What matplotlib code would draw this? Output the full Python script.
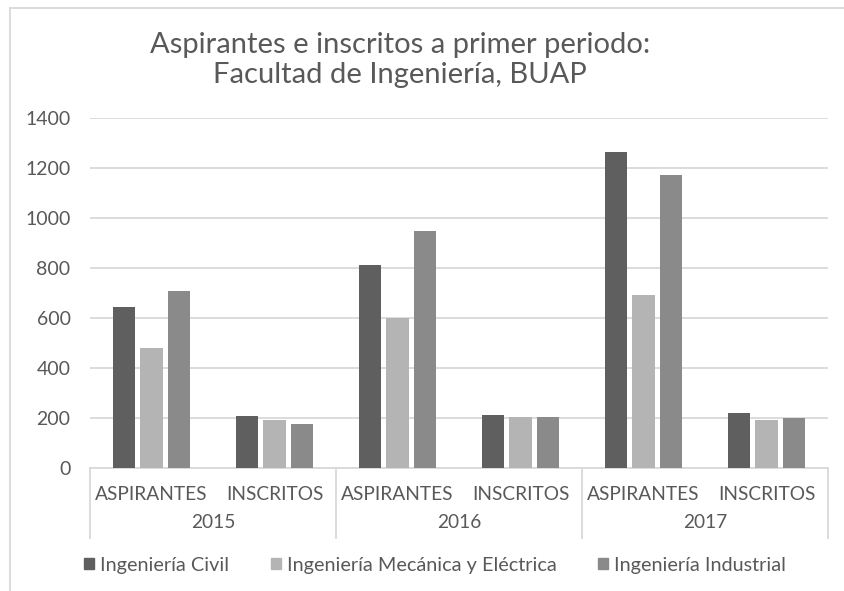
import numpy as np
import matplotlib.pyplot as plt
from matplotlib.lines import Line2D
from matplotlib.patches import Patch
import matplotlib.transforms as mtransforms

plt.rcParams['font.family'] = ['Lato', 'DejaVu Sans']

# datos
categorias = ['ASPIRANTES', 'INSCRITOS'] * 3
anios = ['2015', '2016', '2017']
series = ['Ingeniería Civil', 'Ingeniería Mecánica y Eléctrica', 'Ingeniería Industrial']
civil = [645, 208, 812, 212, 1263, 217]
mecanica = [481, 190, 601, 201, 690, 190]
industrial = [709, 175, 949, 201, 1170, 199]
colores = ['#5f5f5f', '#b4b4b4', '#8a8a8a']
gris_txt = '#595959'
gris_lin = '#d9d9d9'

fig = plt.figure(figsize=(8.44, 5.91), dpi=100)
ax = fig.add_axes([90/844, 1-467.7/591, 738/844, 349.7/591])

x = np.arange(len(categorias))
ancho = 0.179
paso = 0.22
for i, (vals, nombre) in enumerate(zip([civil, mecanica, industrial], series)):
    ax.bar(x + (i-1)*paso, vals, ancho, color=colores[i], label=nombre, zorder=3)

ax.set_xlim(-0.5, 5.5)
ax.set_ylim(0, 1400)
ax.set_yticks(range(0, 1401, 200))
ax.yaxis.grid(True, color=gris_lin, linewidth=1.3, zorder=0)
ax.tick_params(axis='y', length=0, pad=14, labelsize=14, labelcolor=gris_txt)
ax.set_xticks([])
for s in ['top', 'right', 'left']:
    ax.spines[s].set_visible(False)
ax.spines['bottom'].set_color(gris_lin)
ax.spines['bottom'].set_linewidth(1.3)

# etiquetas de categorias en dos niveles
trans = mtransforms.blended_transform_factory(ax.transData, ax.transAxes)
for xi, c in zip(x, categorias):
    ax.text(xi, -0.076, c, transform=trans, ha='center', va='center',
            fontsize=13.8, color=gris_txt)
for j, a in enumerate(anios):
    ax.text(2*j + 0.5, -0.158, a, transform=trans, ha='center', va='center',
            fontsize=13.8, color=gris_txt)
for xs in [-0.5, 1.5, 3.5, 5.5]:
    ax.plot([xs, xs], [0, -0.201], transform=trans, color=gris_lin,
            linewidth=1.3, clip_on=False)

fig.text(400/844, 1-60/591, 'Aspirantes e inscritos a primer periodo:\nFacultad de Ingeniería, BUAP',
         ha='center', va='center', fontsize=21, color=gris_txt, linespacing=1.15)

handles = [Patch(color=c) for c in colores]
fig.legend(handles, series, loc='center', bbox_to_anchor=(435/844, 1-565/591), ncol=3,
           frameon=False, fontsize=14.3, labelcolor=gris_txt, handlelength=0.5,
           handleheight=0.5, handletextpad=0.3, columnspacing=2.1)

# borde del area del grafico
fig.add_artist(Line2D([10/844, 1], [1-8/591, 1-8/591], color=gris_lin, linewidth=1.3))
fig.add_artist(Line2D([10/844, 10/844], [0, 1-8/591], color=gris_lin, linewidth=1.3))

fig.savefig('out.png', dpi=100)
